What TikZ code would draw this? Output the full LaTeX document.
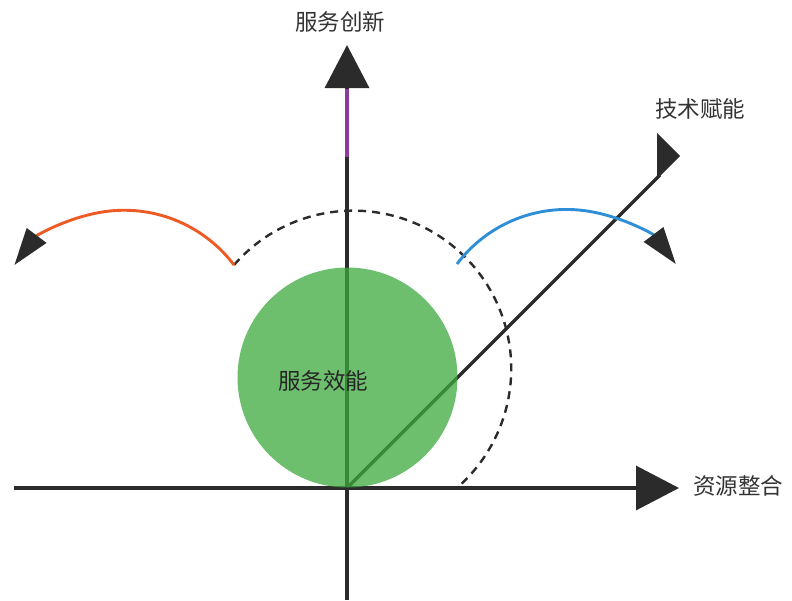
\documentclass[tikz,border=0pt]{standalone}
\usepackage{fontspec}
\newfontfamily\cjk{Noto Sans CJK SC}
\usetikzlibrary{arrows.meta}
\definecolor{axiscol}{HTML}{2B2B2B}
\definecolor{purp}{HTML}{8E3B9E}
\definecolor{orng}{HTML}{EE5A24}
\definecolor{blu}{HTML}{2F8FD6}
\definecolor{grn}{RGB}{60,168,60}
\definecolor{txt}{HTML}{333333}
\begin{document}
\begin{tikzpicture}[x=1pt,y=-1pt,
  axis/.style={line width=3.3pt, draw=axiscol},
  bigtip/.style={-{Triangle[length=43pt,width=44pt]}},
  arctip/.style={-{Triangle[length=37pt,width=24pt,color=axiscol]}},
  swing/.style={line width=2.9pt},
  guide/.style={line width=2.4pt, draw=axiscol, dash pattern=on 8pt off 6pt},
  lbl/.style={font=\cjk\fontsize{22.5}{26}\selectfont, text=txt, inner sep=0pt}]
\useasboundingbox (0,0) rectangle (792,600);
\coordinate (O) at (347,488);
\coordinate (xl) at (14,488);
\coordinate (xr) at (679,488);
\coordinate (yb) at (347,600);
\coordinate (yt) at (347,45);
\coordinate (pb) at (347,157);
\coordinate (pt) at (347,89);
\coordinate (dend) at (660,175);
\coordinate (os) at (234,265);
\coordinate (bs) at (457,264);
% axes
\draw[axis,bigtip,axiscol] (xl) -- (xr);
\draw[axis,bigtip,axiscol] (yb) -- (yt);
\draw[line width=3.8pt, draw=purp] (pb) -- (pt);
\draw[axis] (O) -- (dend);
\fill[axiscol] (657,133) -- (680,156) -- (657,179) -- cycle;
% dashed guide
\draw[guide] (os) arc[start angle=-139, end angle=49, radius=158];
% green circle
\node[circle, fill=grn, fill opacity=0.75, minimum size=220pt, inner sep=0pt] (eff) at (347.5,377.5) {};
\node[lbl, text=black!85] (efft) at (323,381) {服务效能};
% swings
\draw[swing, draw=orng, arctip] (os) arc[start angle=-37, end angle=-143, radius=137.5];
\draw[swing, draw=blu, arctip] (bs) arc[start angle=-143, end angle=-37, radius=137];
% labels
\node[lbl] (l1) at (340,22) {服务创新};
\node[lbl] (l2) at (700,109) {技术赋能};
\node[lbl] (l3) at (738,486) {资源整合};
\end{tikzpicture}
\end{document}
